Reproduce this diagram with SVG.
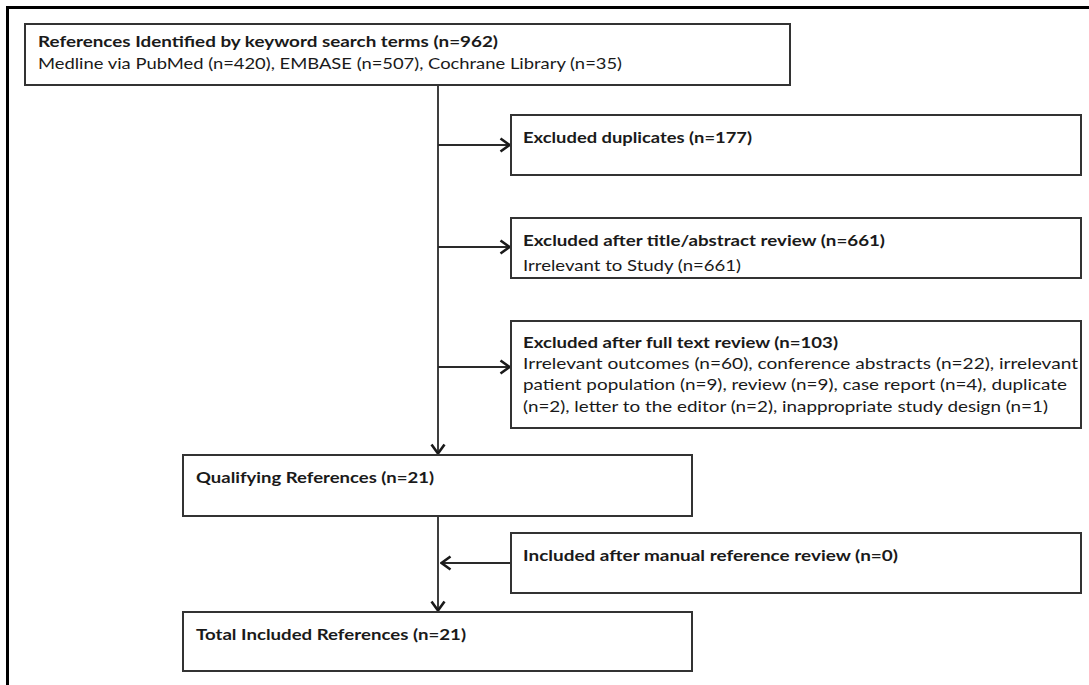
<svg xmlns="http://www.w3.org/2000/svg" width="1089" height="685" viewBox="0 0 1089 685">
<style>
.frame{fill:none;stroke:#000;stroke-width:3}
.box{fill:#fff;stroke:#333;stroke-width:2}
.t{font-family:Lato,"Liberation Sans",sans-serif;font-size:16px;fill:#1a1a1a}
.b{font-weight:bold}
.ln{fill:none;stroke:#2a2a2a;stroke-width:1.8}
</style>
<defs>
<marker id="ah" viewBox="0 0 12 16" refX="11" refY="8" markerWidth="12" markerHeight="16" markerUnits="userSpaceOnUse" orient="auto">
<path d="M1.5,1.5 L10.5,8 L1.5,14.5" fill="none" stroke="#1a1a1a" stroke-width="2.6" stroke-linejoin="miter"/>
</marker>
</defs>
<rect width="1089" height="685" fill="#fff"/>
<rect class="frame" x="7.5" y="7.5" width="1100" height="700"/>

<g id="connectors">
<path class="ln" d="M438,85 V454" marker-end="url(#ah)"/>
<path class="ln" d="M438,145 H510" marker-end="url(#ah)"/>
<path class="ln" d="M438,247 H510" marker-end="url(#ah)"/>
<path class="ln" d="M438,367 H510" marker-end="url(#ah)"/>
<path class="ln" d="M438,516 V611" marker-end="url(#ah)"/>
<path class="ln" d="M511,563 H441" marker-end="url(#ah)"/>
</g>

<g id="n-identified">
<rect class="box" x="25" y="24" width="765" height="61"/>
<text class="t b" x="38" y="47" textLength="460" lengthAdjust="spacingAndGlyphs">References Identified by keyword search terms (n=962)</text>
<text class="t" x="38" y="69" textLength="584" lengthAdjust="spacingAndGlyphs">Medline via PubMed (n=420), EMBASE (n=507), Cochrane Library (n=35)</text>
</g>

<g id="n-duplicates">
<rect class="box" x="511" y="115" width="570" height="60"/>
<text class="t b" x="523" y="143" textLength="229" lengthAdjust="spacingAndGlyphs">Excluded duplicates (n=177)</text>
</g>

<g id="n-title-abstract">
<rect class="box" x="511" y="218" width="570" height="60"/>
<text class="t b" x="523" y="246" textLength="362" lengthAdjust="spacingAndGlyphs">Excluded after title/abstract review (n=661)</text>
<text class="t" x="523" y="271" textLength="218" lengthAdjust="spacingAndGlyphs">Irrelevant to Study (n=661)</text>
</g>

<g id="n-fulltext">
<rect class="box" x="511" y="321" width="570" height="107"/>
<text class="t b" x="523" y="348" textLength="315" lengthAdjust="spacingAndGlyphs">Excluded after full text review (n=103)</text>
<text class="t" x="523" y="369" textLength="555" lengthAdjust="spacingAndGlyphs">Irrelevant outcomes (n=60), conference abstracts (n=22), irrelevant</text>
<text class="t" x="523" y="390" textLength="544" lengthAdjust="spacingAndGlyphs">patient population (n=9), review (n=9), case report (n=4), duplicate</text>
<text class="t" x="523" y="412" textLength="525" lengthAdjust="spacingAndGlyphs">(n=2), letter to the editor (n=2), inappropriate study design (n=1)</text>
</g>

<g id="n-qualifying">
<rect class="box" x="183" y="455" width="509" height="61"/>
<text class="t b" x="196" y="483" textLength="238" lengthAdjust="spacingAndGlyphs">Qualifying References (n=21)</text>
</g>

<g id="n-manual">
<rect class="box" x="511" y="533" width="570" height="60"/>
<text class="t b" x="523" y="561" textLength="375" lengthAdjust="spacingAndGlyphs">Included after manual reference review (n=0)</text>
</g>

<g id="n-total">
<rect class="box" x="183" y="612" width="509" height="59"/>
<text class="t b" x="196" y="640" textLength="270" lengthAdjust="spacingAndGlyphs">Total Included References (n=21)</text>
</g>
</svg>
